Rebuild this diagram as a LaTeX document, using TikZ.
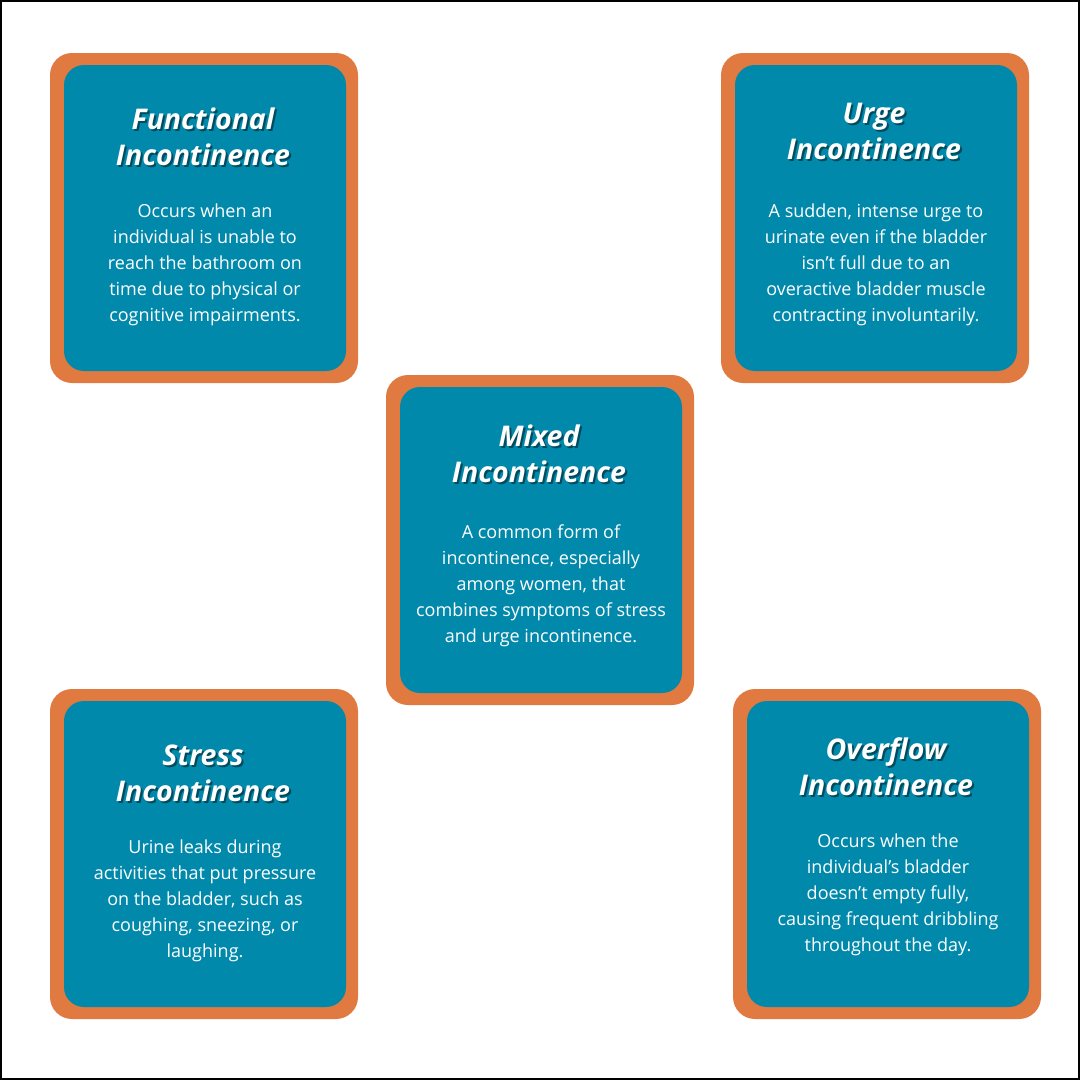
\documentclass[tikz,border=0pt]{standalone}
\usepackage{fontspec}
\setmainfont{Open Sans}
\definecolor{org}{HTML}{E07A40}
\definecolor{teal}{HTML}{0089AB}
\begin{document}
\begin{tikzpicture}[x=1pt,y=-1pt,
 outerbox/.style={fill=org,rounded corners=22pt},
 innerbox/.style={fill=teal,rounded corners=20pt},
 ttl/.style={text=white,align=center,font=\fontsize{28.5}{36}\selectfont\bfseries\itshape},
 ttlsh/.style={text=black,opacity=0.45,align=center,font=\fontsize{28.5}{36}\selectfont\bfseries\itshape},
 body/.style={text=white,align=center,font=\fontsize{18}{26}\selectfont}]
\draw[line width=2pt] (1,1) rectangle (1079,1079);
\useasboundingbox (0,0) rectangle (1080,1080);
\newcommand{\cbox}[9]{%
 \fill[outerbox] (#2,#3) rectangle (#4,#5);
 \fill[innerbox] (#2+14,#3+12) rectangle (#4-12,#5-12);
 \node[ttlsh] at ({(#2+#4)/2+1},#6+2) {#8};
 \node[ttl] (#1t) at ({(#2+#4)/2-1},#6) {#8};
 \node[body] (#1b) at ({(#2+#4)/2+1},#7+3) {#9};}
\cbox{f}{50}{53}{358}{383}{137}{262}{Functional\\Incontinence}{Occurs when an\\individual is unable to\\reach the bathroom on\\time due to physical or\\cognitive impairments.}
\cbox{u}{721}{53}{1029}{383}{131}{262}{Urge\\Incontinence}{A sudden, intense urge to\\urinate even if the bladder\\isn’t full due to an\\overactive bladder muscle\\contracting involuntarily.}
\cbox{m}{386}{375}{694}{705}{454}{583}{Mixed\\Incontinence}{A common form of\\incontinence, especially\\among women, that\\combines symptoms of stress\\and urge incontinence.}
\cbox{s}{50}{689}{358}{1019}{773}{898}{Stress\\Incontinence}{Urine leaks during\\activities that put pressure\\on the bladder, such as\\coughing, sneezing, or\\laughing.}
\cbox{o}{733}{689}{1041}{1019}{767}{892}{Overflow\\Incontinence}{Occurs when the\\individual’s bladder\\doesn’t empty fully,\\causing frequent dribbling\\throughout the day.}
\end{tikzpicture}
\end{document}
